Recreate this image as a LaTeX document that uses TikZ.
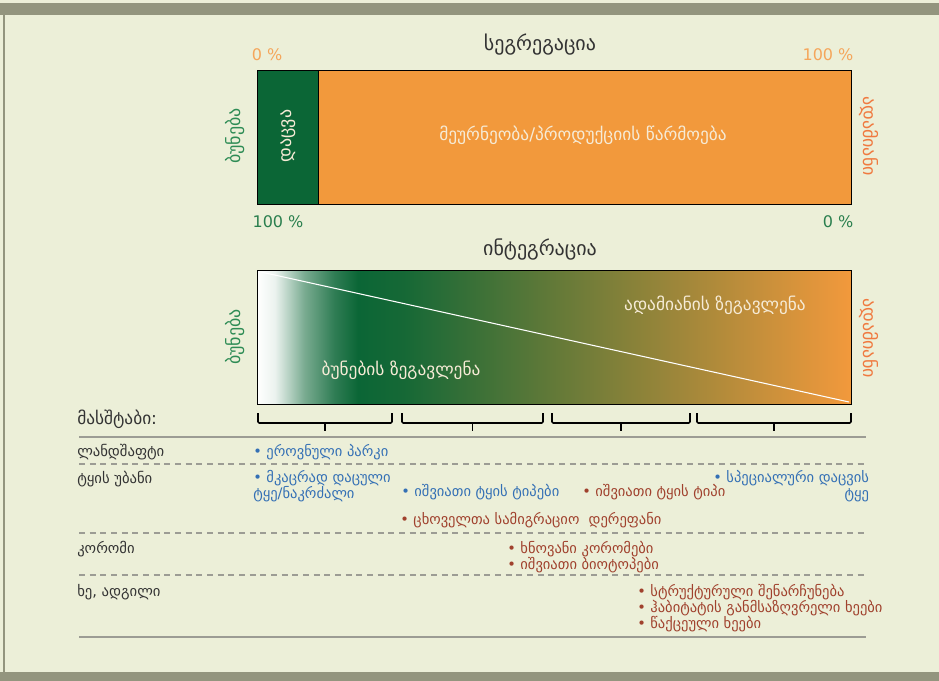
\documentclass[tikz,border=0pt]{standalone}
\usepackage{fontspec}
\setmainfont{DejaVu Sans}
\usepackage{tikz}
\usetikzlibrary{positioning}

\definecolor{bgcol}{HTML}{ECEFD8}
\definecolor{band}{HTML}{93957E}
\definecolor{dgreen}{HTML}{0B6636}
\definecolor{orng}{HTML}{F2993C}
\definecolor{cream}{HTML}{F6EBD6}
\definecolor{natgreen}{HTML}{2E8C55}
\definecolor{humorange}{HTML}{F07A40}
\definecolor{pctorange}{HTML}{F5A65B}
\definecolor{pctgreen}{HTML}{2A7F4E}
\definecolor{txtgray}{HTML}{333333}
\definecolor{itemblue}{HTML}{3470B5}
\definecolor{itemred}{HTML}{A0412D}
\definecolor{linegray}{HTML}{9C9C94}

\pgfdeclarehorizontalshading{influence}{100bp}{color(0bp)=(white); color(25bp)=(white);
  color(26.5bp)=(white!92!dgreen); color(29bp)=(white!45!dgreen); color(31.5bp)=(white!15!dgreen);
  color(33.5bp)=(dgreen); color(37.5bp)=(dgreen!95!orng); color(50bp)=(dgreen!62!orng);
  color(61bp)=(dgreen!35!orng); color(69bp)=(dgreen!15!orng); color(75bp)=(orng); color(100bp)=(orng)}

\tikzset{
  title/.style={font=\fontsize{15}{18}\selectfont, text=txtgray, inner sep=0pt},
  pct/.style={font=\fontsize{12}{14}\selectfont, inner sep=0pt},
  inbox/.style={font=\fontsize{13}{15}\selectfont, text=cream, inner sep=0pt},
  side/.style={font=\fontsize{13.5}{15}\selectfont, inner sep=0pt},
  lbl/.style={font=\fontsize{11}{12}\selectfont, text=txtgray, anchor=west, inner sep=0pt},
  itemb/.style={font=\fontsize{10.9}{12.5}\selectfont, text=itemblue, anchor=west, inner sep=0pt},
  itemr/.style={font=\fontsize{10.9}{12}\selectfont, text=itemred, anchor=west, inner sep=0pt},
  sepline/.style={draw=linegray, dash pattern=on 4.5pt off 3.5pt, line width=0.8pt},
  rule/.style={draw=linegray, line width=0.9pt},
  brack/.style={line width=1.2pt, rounded corners=1pt}
}

\begin{document}
\begin{tikzpicture}[x=0.75pt,y=-0.75pt]
\useasboundingbox (0,0) rectangle (939,681);
% background and frame
\fill[bgcol] (0,0) rectangle (939,681);
\fill[band] (0,3) rectangle (939,15);
\fill[band] (0,672) rectangle (939,681);
\draw[band, line width=1.2pt] (4,15) -- (4,672);

% segregation
\node[title] (segtitle) at (540,45) {სეგრეგაცია};
\node[pct, text=pctorange] (segzero) at (267,55) {0 \%};
\node[pct, text=pctorange] (segfull) at (828,55) {100 \%};
\draw[fill=orng] (257,70) rectangle (851,204);
\draw[fill=dgreen] (257,70) rectangle (318,204);
\node[inbox, rotate=90, font=\fontsize{13.5}{15}\selectfont] (protect) at (288,136) {დაცვა};
\node[inbox] (farming) at (583,135) {მეურნეობა/პროდუქციის წარმოება};
\node[pct, text=pctgreen] (segnat) at (278,222) {100 \%};
\node[pct, text=pctgreen] (seghum) at (838,222) {0 \%};
\node[side, rotate=90, text=natgreen] (nature1) at (235,136) {ბუნება};
\node[side, rotate=-90, text=humorange] (human1) at (869,136) {ადამიანი};

% integration
\node[title] (inttitle) at (540,250) {ინტეგრაცია};
\shadedraw[shading=influence, draw=black] (257,270) rectangle (851,404);
\coordinate (diagA) at (261,272);
\coordinate (diagB) at (849,402);
\draw[white, line width=0.8pt] (diagA) -- (diagB);
\node[inbox] (humimpact) at (715,305) {ადამიანის ზეგავლენა};
\node[inbox] (natimpact) at (401,370) {ბუნების ზეგავლენა};
\node[side, rotate=90, text=natgreen] (nature2) at (235,337) {ბუნება};
\node[side, rotate=-90, text=humorange] (human2) at (869,338) {ადამიანი};

% brackets
\foreach \a/\b in {258/392, 402/543, 552/690, 697/851}{
  \draw[brack] (\a,413) -- (\a,423) -- (\b,423) -- (\b,413);
  \draw[brack] ({(\a+\b)/2},423) -- ++(0,8);
}

% scales
\node[lbl, font=\fontsize{13}{14}\selectfont] (scales) at (77,419) {მასშტაბი:};
\draw[rule] (79,437) -- (866,437);
\node[lbl] (landscape) at (77,452) {ლანდშაფტი};
\draw[sepline] (79,464) -- (866,464);
\node[lbl] (stand) at (77,479) {ტყის უბანი};
\draw[sepline] (79,533) -- (866,533);
\node[lbl] (grove) at (77,549) {კორომი};
\draw[sepline] (79,575) -- (866,575);
\node[lbl] (tree) at (77,592) {ხე, ადგილი};
\draw[rule] (79,637) -- (866,637);

\node[itemb] (natpark) at (253,452) {• ეროვნული პარკი};
\node[itemb, align=left] (reserve) at (253,486) {• მკაცრად დაცული\\ტყე/ნაკრძალი};
\node[itemb] (rareblue) at (401,492) {• იშვიათი ტყის ტიპები};
\node[itemr] (rarered) at (582,492) {• იშვიათი ტყის ტიპი};
\node[itemb, align=right] (special) at (713,486) {• სპეციალური დაცვის\\ტყე};
\node[itemr] (corridor) at (400,520) {• ცხოველთა სამიგრაციო\ \ დერეფანი};
\node[itemr, align=left] (oldgrove) at (507,557) {• ხნოვანი კორომები\\• იშვიათი ბიოტოპები};
\node[itemr, align=left] (habitat) at (637,608) {• სტრუქტურული შენარჩუნება\\• ჰაბიტატის განმსაზღვრელი ხეები\\• წაქცეული ხეები};
\end{tikzpicture}
\end{document}
